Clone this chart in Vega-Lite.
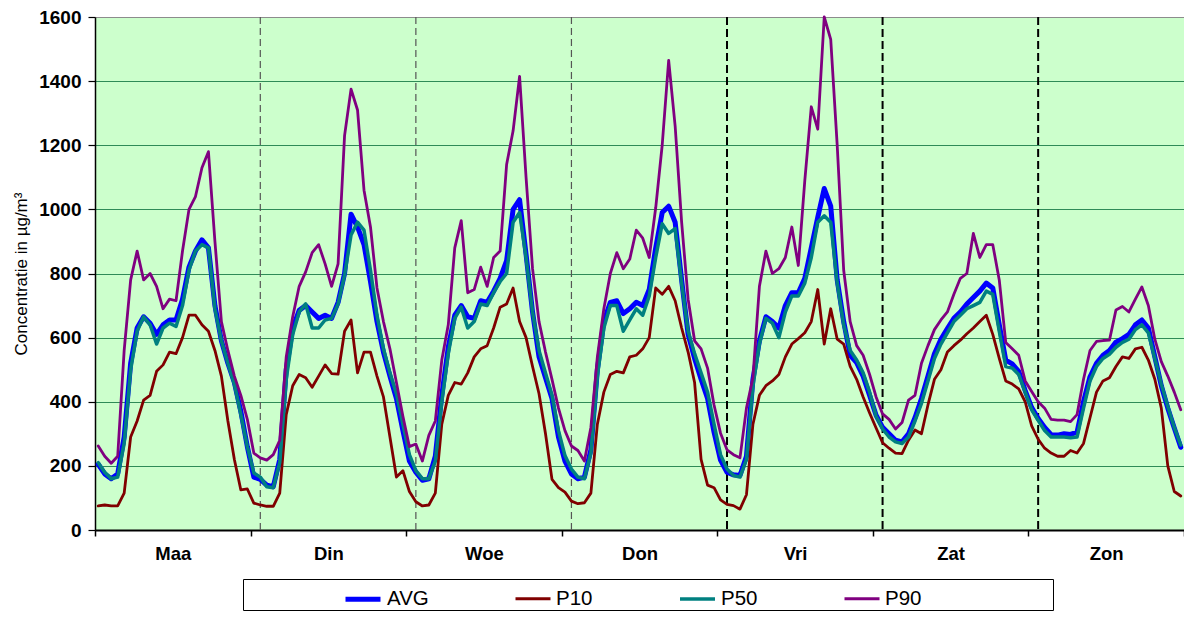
{
  "$schema": "https://vega.github.io/schema/vega-lite/v6.json",
  "width": 1089,
  "height": 513,
  "autosize": {"type": "none"},
  "padding": {"left": 95, "top": 17, "right": 0, "bottom": 87},
  "background": "white",
  "config": {
    "view": {"fill": "#CCFFCC", "stroke": "#8c8c8c", "strokeWidth": 1},
    "font": "Liberation Sans"
  },
  "encoding": {
    "x": {
      "field": "h", "type": "quantitative",
      "scale": {"domain": [-0.5, 167.5], "nice": false, "zero": false},
      "axis": {
        "values": [-0.5, 11.5, 23.5, 35.5, 47.5, 59.5, 71.5, 83.5, 95.5, 107.5, 119.5, 131.5, 143.5, 155.5, 167.5],
        "labelExpr": "(datum.value + 0.5) % 24 == 12 ? ['Maa','Din','Woe','Don','Vri','Zat','Zon'][floor(datum.value / 24)] : ''",
        "tickOpacity": {"condition": {"test": "(datum.value + 0.5) % 24 == 12", "value": 0}, "value": 1},
        "grid": false,
        "domainColor": "#000000", "domainWidth": 2,
        "tickColor": "#000000", "tickSize": 6, "tickWidth": 1.5,
        "labelFont": "Liberation Sans", "labelFontSize": 18.5, "labelFontWeight": "bold", "labelColor": "#000000",
        "labelPadding": 8, "labelOverlap": false, "labelFlush": false,
        "title": null
      }
    }
  },
  "layer": [
    {
      "data": {"values": [{"h": 25}, {"h": 49}, {"h": 73}]},
      "mark": {"type": "rule", "color": "#555555", "strokeWidth": 1.2, "strokeDash": [7, 4]}
    },
    {
      "data": {"values": [{"h": 97}, {"h": 121}, {"h": 145}]},
      "mark": {"type": "rule", "color": "#000000", "strokeWidth": 2, "strokeDash": [8, 4]}
    },
    {
      "data": {"values": [
{"h":0,"AVG":205,"P10":75,"P50":210,"P90":262},
{"h":1,"AVG":175,"P10":78,"P50":180,"P90":230},
{"h":2,"AVG":160,"P10":75,"P50":160,"P90":208},
{"h":3,"AVG":175,"P10":75,"P50":165,"P90":230},
{"h":4,"AVG":290,"P10":115,"P50":270,"P90":560},
{"h":5,"AVG":520,"P10":290,"P50":500,"P90":780},
{"h":6,"AVG":630,"P10":340,"P50":620,"P90":870},
{"h":7,"AVG":665,"P10":405,"P50":665,"P90":780},
{"h":8,"AVG":645,"P10":420,"P50":640,"P90":800},
{"h":9,"AVG":610,"P10":495,"P50":580,"P90":760},
{"h":10,"AVG":640,"P10":515,"P50":630,"P90":690},
{"h":11,"AVG":655,"P10":555,"P50":645,"P90":720},
{"h":12,"AVG":655,"P10":550,"P50":635,"P90":715},
{"h":13,"AVG":720,"P10":600,"P50":700,"P90":870},
{"h":14,"AVG":820,"P10":670,"P50":810,"P90":1000},
{"h":15,"AVG":870,"P10":670,"P50":870,"P90":1040},
{"h":16,"AVG":905,"P10":640,"P50":890,"P90":1130},
{"h":17,"AVG":880,"P10":620,"P50":880,"P90":1180},
{"h":18,"AVG":700,"P10":560,"P50":690,"P90":900},
{"h":19,"AVG":590,"P10":480,"P50":590,"P90":650},
{"h":20,"AVG":520,"P10":340,"P50":520,"P90":560},
{"h":21,"AVG":460,"P10":220,"P50":455,"P90":480},
{"h":22,"AVG":370,"P10":125,"P50":360,"P90":420},
{"h":23,"AVG":260,"P10":128,"P50":260,"P90":345},
{"h":24,"AVG":165,"P10":84,"P50":178,"P90":240},
{"h":25,"AVG":158,"P10":78,"P50":165,"P90":225},
{"h":26,"AVG":140,"P10":74,"P50":135,"P90":218},
{"h":27,"AVG":135,"P10":74,"P50":132,"P90":235},
{"h":28,"AVG":220,"P10":115,"P50":210,"P90":280},
{"h":29,"AVG":500,"P10":360,"P50":470,"P90":540},
{"h":30,"AVG":630,"P10":450,"P50":610,"P90":665},
{"h":31,"AVG":685,"P10":485,"P50":680,"P90":760},
{"h":32,"AVG":700,"P10":475,"P50":705,"P90":805},
{"h":33,"AVG":680,"P10":445,"P50":630,"P90":865},
{"h":34,"AVG":660,"P10":480,"P50":630,"P90":890},
{"h":35,"AVG":670,"P10":515,"P50":655,"P90":830},
{"h":36,"AVG":660,"P10":488,"P50":660,"P90":760},
{"h":37,"AVG":710,"P10":486,"P50":705,"P90":830},
{"h":38,"AVG":800,"P10":620,"P50":795,"P90":1230},
{"h":39,"AVG":985,"P10":655,"P50":920,"P90":1375},
{"h":40,"AVG":945,"P10":490,"P50":960,"P90":1310},
{"h":41,"AVG":890,"P10":555,"P50":935,"P90":1060},
{"h":42,"AVG":775,"P10":555,"P50":810,"P90":945},
{"h":43,"AVG":650,"P10":480,"P50":670,"P90":755},
{"h":44,"AVG":555,"P10":415,"P50":565,"P90":650},
{"h":45,"AVG":480,"P10":290,"P50":490,"P90":565},
{"h":46,"AVG":410,"P10":165,"P50":425,"P90":460},
{"h":47,"AVG":310,"P10":185,"P50":330,"P90":355},
{"h":48,"AVG":215,"P10":120,"P50":235,"P90":260},
{"h":49,"AVG":180,"P10":88,"P50":185,"P90":268},
{"h":50,"AVG":155,"P10":75,"P50":160,"P90":215},
{"h":51,"AVG":160,"P10":78,"P50":160,"P90":295},
{"h":52,"AVG":230,"P10":115,"P50":215,"P90":340},
{"h":53,"AVG":420,"P10":330,"P50":400,"P90":530},
{"h":54,"AVG":570,"P10":420,"P50":550,"P90":640},
{"h":55,"AVG":670,"P10":460,"P50":660,"P90":880},
{"h":56,"AVG":700,"P10":455,"P50":695,"P90":965},
{"h":57,"AVG":665,"P10":490,"P50":630,"P90":740},
{"h":58,"AVG":660,"P10":540,"P50":650,"P90":750},
{"h":59,"AVG":715,"P10":565,"P50":705,"P90":820},
{"h":60,"AVG":710,"P10":575,"P50":700,"P90":760},
{"h":61,"AVG":745,"P10":630,"P50":740,"P90":850},
{"h":62,"AVG":785,"P10":695,"P50":775,"P90":870},
{"h":63,"AVG":840,"P10":705,"P50":800,"P90":1140},
{"h":64,"AVG":1000,"P10":755,"P50":960,"P90":1245},
{"h":65,"AVG":1030,"P10":650,"P50":990,"P90":1415},
{"h":66,"AVG":860,"P10":600,"P50":850,"P90":1100},
{"h":67,"AVG":680,"P10":510,"P50":680,"P90":815},
{"h":68,"AVG":540,"P10":425,"P50":560,"P90":650},
{"h":69,"AVG":475,"P10":300,"P50":490,"P90":555},
{"h":70,"AVG":410,"P10":158,"P50":420,"P90":470},
{"h":71,"AVG":290,"P10":132,"P50":310,"P90":380},
{"h":72,"AVG":215,"P10":118,"P50":232,"P90":310},
{"h":73,"AVG":175,"P10":90,"P50":190,"P90":262},
{"h":74,"AVG":160,"P10":82,"P50":165,"P90":248},
{"h":75,"AVG":165,"P10":85,"P50":160,"P90":215},
{"h":76,"AVG":250,"P10":115,"P50":240,"P90":320},
{"h":77,"AVG":500,"P10":330,"P50":480,"P90":540},
{"h":78,"AVG":650,"P10":430,"P50":630,"P90":690},
{"h":79,"AVG":710,"P10":485,"P50":700,"P90":800},
{"h":80,"AVG":715,"P10":495,"P50":700,"P90":865},
{"h":81,"AVG":675,"P10":490,"P50":620,"P90":815},
{"h":82,"AVG":690,"P10":540,"P50":655,"P90":845},
{"h":83,"AVG":710,"P10":545,"P50":690,"P90":935},
{"h":84,"AVG":700,"P10":565,"P50":670,"P90":910},
{"h":85,"AVG":750,"P10":600,"P50":730,"P90":850},
{"h":86,"AVG":880,"P10":755,"P50":850,"P90":1005},
{"h":87,"AVG":990,"P10":735,"P50":955,"P90":1200},
{"h":88,"AVG":1010,"P10":760,"P50":925,"P90":1465},
{"h":89,"AVG":960,"P10":715,"P50":940,"P90":1260},
{"h":90,"AVG":780,"P10":630,"P50":770,"P90":960},
{"h":91,"AVG":610,"P10":555,"P50":620,"P90":720},
{"h":92,"AVG":535,"P10":460,"P50":550,"P90":590},
{"h":93,"AVG":470,"P10":220,"P50":490,"P90":565},
{"h":94,"AVG":410,"P10":140,"P50":430,"P90":505},
{"h":95,"AVG":305,"P10":132,"P50":330,"P90":390},
{"h":96,"AVG":218,"P10":94,"P50":235,"P90":302},
{"h":97,"AVG":180,"P10":80,"P50":190,"P90":250},
{"h":98,"AVG":172,"P10":76,"P50":170,"P90":235},
{"h":99,"AVG":170,"P10":65,"P50":165,"P90":225},
{"h":100,"AVG":230,"P10":110,"P50":220,"P90":380},
{"h":101,"AVG":470,"P10":330,"P50":450,"P90":475},
{"h":102,"AVG":590,"P10":420,"P50":580,"P90":760},
{"h":103,"AVG":665,"P10":450,"P50":660,"P90":870},
{"h":104,"AVG":650,"P10":465,"P50":645,"P90":800},
{"h":105,"AVG":630,"P10":485,"P50":600,"P90":815},
{"h":106,"AVG":700,"P10":540,"P50":680,"P90":850},
{"h":107,"AVG":740,"P10":580,"P50":730,"P90":945},
{"h":108,"AVG":740,"P10":597,"P50":730,"P90":825},
{"h":109,"AVG":785,"P10":615,"P50":770,"P90":1090},
{"h":110,"AVG":880,"P10":650,"P50":850,"P90":1320},
{"h":111,"AVG":975,"P10":750,"P50":960,"P90":1250},
{"h":112,"AVG":1065,"P10":580,"P50":980,"P90":1600},
{"h":113,"AVG":1010,"P10":690,"P50":960,"P90":1530},
{"h":114,"AVG":780,"P10":595,"P50":770,"P90":1200},
{"h":115,"AVG":650,"P10":580,"P50":640,"P90":810},
{"h":116,"AVG":545,"P10":510,"P50":560,"P90":650},
{"h":117,"AVG":522,"P10":470,"P50":530,"P90":575},
{"h":118,"AVG":480,"P10":415,"P50":490,"P90":545},
{"h":119,"AVG":420,"P10":365,"P50":430,"P90":485},
{"h":120,"AVG":358,"P10":318,"P50":355,"P90":415},
{"h":121,"AVG":320,"P10":272,"P50":315,"P90":362},
{"h":122,"AVG":300,"P10":255,"P50":290,"P90":345},
{"h":123,"AVG":280,"P10":240,"P50":275,"P90":315},
{"h":124,"AVG":275,"P10":238,"P50":270,"P90":335},
{"h":125,"AVG":300,"P10":280,"P50":290,"P90":405},
{"h":126,"AVG":350,"P10":312,"P50":340,"P90":420},
{"h":127,"AVG":410,"P10":300,"P50":395,"P90":520},
{"h":128,"AVG":480,"P10":390,"P50":465,"P90":575},
{"h":129,"AVG":550,"P10":470,"P50":535,"P90":625},
{"h":130,"AVG":595,"P10":500,"P50":580,"P90":655},
{"h":131,"AVG":628,"P10":555,"P50":615,"P90":680},
{"h":132,"AVG":660,"P10":575,"P50":650,"P90":735},
{"h":133,"AVG":680,"P10":592,"P50":670,"P90":785},
{"h":134,"AVG":705,"P10":612,"P50":690,"P90":800},
{"h":135,"AVG":725,"P10":630,"P50":700,"P90":925},
{"h":136,"AVG":745,"P10":650,"P50":710,"P90":850},
{"h":137,"AVG":770,"P10":670,"P50":745,"P90":890},
{"h":138,"AVG":755,"P10":610,"P50":735,"P90":890},
{"h":139,"AVG":640,"P10":535,"P50":620,"P90":780},
{"h":140,"AVG":530,"P10":465,"P50":510,"P90":585},
{"h":141,"AVG":518,"P10":455,"P50":505,"P90":565},
{"h":142,"AVG":495,"P10":440,"P50":485,"P90":545},
{"h":143,"AVG":435,"P10":400,"P50":430,"P90":465},
{"h":144,"AVG":382,"P10":325,"P50":375,"P90":432},
{"h":145,"AVG":348,"P10":283,"P50":342,"P90":400},
{"h":146,"AVG":320,"P10":255,"P50":310,"P90":380},
{"h":147,"AVG":297,"P10":240,"P50":290,"P90":345},
{"h":148,"AVG":296,"P10":230,"P50":290,"P90":343},
{"h":149,"AVG":300,"P10":230,"P50":290,"P90":343},
{"h":150,"AVG":298,"P10":248,"P50":288,"P90":338},
{"h":151,"AVG":305,"P10":240,"P50":290,"P90":360},
{"h":152,"AVG":400,"P10":270,"P50":380,"P90":470},
{"h":153,"AVG":478,"P10":350,"P50":465,"P90":560},
{"h":154,"AVG":520,"P10":430,"P50":510,"P90":588},
{"h":155,"AVG":545,"P10":465,"P50":535,"P90":591},
{"h":156,"AVG":560,"P10":475,"P50":548,"P90":592},
{"h":157,"AVG":586,"P10":510,"P50":570,"P90":686},
{"h":158,"AVG":597,"P10":540,"P50":585,"P90":697},
{"h":159,"AVG":610,"P10":535,"P50":595,"P90":680},
{"h":160,"AVG":640,"P10":565,"P50":625,"P90":720},
{"h":161,"AVG":655,"P10":570,"P50":640,"P90":758},
{"h":162,"AVG":630,"P10":530,"P50":615,"P90":700},
{"h":163,"AVG":540,"P10":470,"P50":535,"P90":595},
{"h":164,"AVG":450,"P10":380,"P50":455,"P90":525},
{"h":165,"AVG":380,"P10":200,"P50":385,"P90":480},
{"h":166,"AVG":318,"P10":120,"P50":320,"P90":430},
{"h":167,"AVG":258,"P10":106,"P50":265,"P90":375}
      ]},
      "transform": [{"fold": ["AVG", "P10", "P50", "P90"], "as": ["series", "value"]}],
      "mark": {"type": "line", "strokeJoin": "round", "strokeCap": "round"},
      "encoding": {
        "y": {
          "field": "value", "type": "quantitative",
          "scale": {"domain": [0, 1600], "nice": false},
          "axis": {
            "values": [0, 200, 400, 600, 800, 1000, 1200, 1400, 1600],
            "format": "d",
            "grid": true, "gridColor": "#2E8B57", "gridWidth": 1,
            "gridOpacity": {"condition": {"test": "datum.value == 1600 || datum.value == 0", "value": 0}, "value": 1},
            "domainColor": "#000000", "domainWidth": 1.5,
            "tickColor": "#000000", "tickSize": 7, "tickWidth": 1.2,
            "labelFont": "Liberation Sans", "labelFontSize": 19, "labelFontWeight": "bold", "labelColor": "#000000",
            "labelPadding": 7,
            "title": "Concentratie in µg/m³",
            "titleFont": "Liberation Sans", "titleFontSize": 17, "titleFontWeight": "normal", "titleColor": "#000000",
            "titlePadding": 8
          }
        },
        "color": {
          "field": "series", "type": "nominal",
          "scale": {"domain": ["AVG", "P10", "P50", "P90"], "range": ["#0000FF", "#800000", "#008080", "#800080"]},
          "legend": {
            "title": "\u200b\u00a0\u00a0\u00a0\u00a0\u00a0\u00a0\u00a0\u00a0\u00a0\u00a0\u00a0\u00a0\u00a0\u00a0\u00a0\u00a0\u00a0\u200b",
            "titleOrient": "left", "titleFontSize": 20.5, "titleFont": "Liberation Sans", "titlePadding": 3, "titleLimit": 400,
            "orient": "none", "legendX": 148, "legendY": 562, "direction": "horizontal",
            "symbolType": "stroke", "symbolSize": 1225,
            "labelFont": "Liberation Sans", "labelFontSize": 20.5, "labelColor": "#000000", "labelLimit": 400,
            "strokeColor": "#000000", "fillColor": "#FFFFFF", "padding": 0,
            "labelOffset": 4, "columnPadding": 80,
            "labelExpr": "datum.label == 'P90' ? 'P90\u00a0\u00a0\u00a0\u00a0\u00a0\u00a0\u00a0\u00a0\u00a0\u00a0\u00a0\u00a0\u00a0\u00a0\u00a0\u00a0\u00a0\u00a0\u00a0\u00a0\u00a0\u00a0\u00a0\u200b' : datum.label"
          }
        },
        "strokeWidth": {
          "field": "series", "type": "nominal",
          "scale": {"type": "ordinal", "domain": ["AVG", "P10", "P50", "P90"], "range": [5, 2.8, 3.5, 2.8]},
          "legend": {
            "title": "\u200b\u00a0\u00a0\u00a0\u00a0\u00a0\u00a0\u00a0\u00a0\u00a0\u00a0\u00a0\u00a0\u00a0\u00a0\u00a0\u00a0\u00a0\u200b",
            "titleOrient": "left", "titleFontSize": 20.5, "titleFont": "Liberation Sans", "titlePadding": 3, "titleLimit": 400,
            "orient": "none", "legendX": 148, "legendY": 562, "direction": "horizontal",
            "symbolType": "stroke", "symbolSize": 1225,
            "labelFont": "Liberation Sans", "labelFontSize": 20.5, "labelColor": "#000000", "labelLimit": 400,
            "strokeColor": "#000000", "fillColor": "#FFFFFF", "padding": 0,
            "labelOffset": 4, "columnPadding": 80,
            "labelExpr": "datum.label == 'P90' ? 'P90\u00a0\u00a0\u00a0\u00a0\u00a0\u00a0\u00a0\u00a0\u00a0\u00a0\u00a0\u00a0\u00a0\u00a0\u00a0\u00a0\u00a0\u00a0\u00a0\u00a0\u00a0\u00a0\u00a0\u200b' : datum.label"
          }
        }
      }
    }
  ]
}
